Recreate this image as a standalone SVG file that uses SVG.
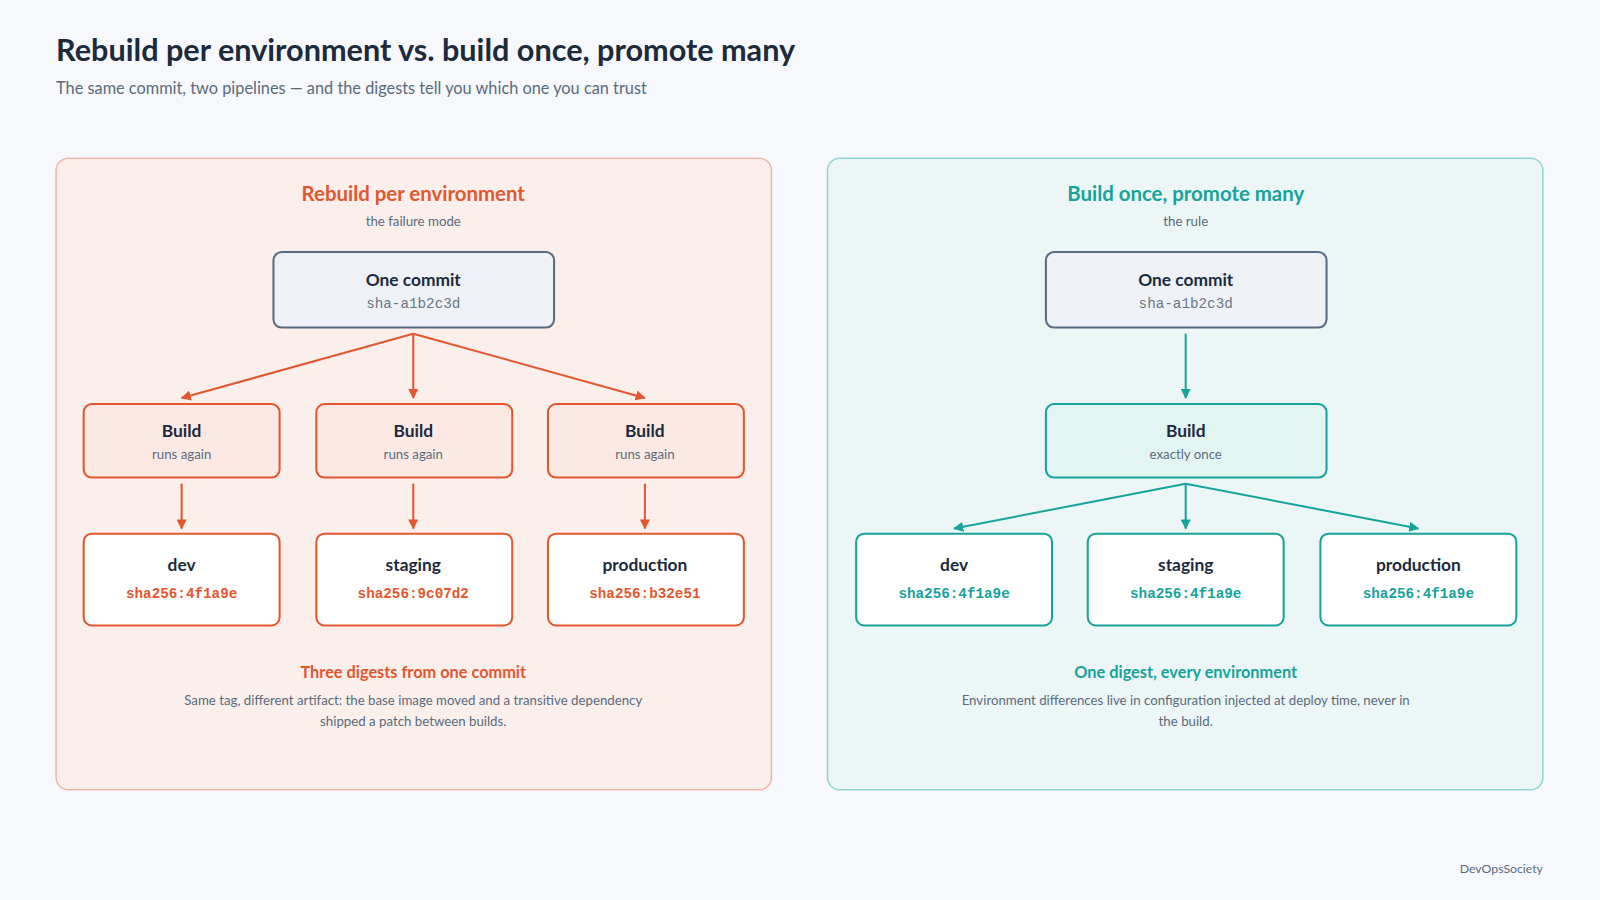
<svg xmlns="http://www.w3.org/2000/svg" width="1600" height="900" viewBox="0 0 1600 900">
<defs>
<style>
text{font-family:Lato,"Noto Sans","Liberation Sans",sans-serif}
.t{font-size:30px;font-weight:700;fill:#1b2a3d}
.st{font-size:16px;fill:#5a6b7d}
.pt{font-size:20px;font-weight:700;text-anchor:middle}
.ps{font-size:13px;fill:#5a6b7d;text-anchor:middle}
.nt{font-size:17px;font-weight:700;fill:#1b2a3d;text-anchor:middle}
.ns{font-size:13px;fill:#5a6b7d;text-anchor:middle}
.mono{font-family:"Liberation Mono","DejaVu Sans Mono",monospace;font-size:14px;text-anchor:middle}
.dg{font-weight:700}
.commit{fill:#eef2f6;stroke:#5b6b80;stroke-width:2}
.o{stroke:#e4572e}
.g{stroke:#16a39b}
.ft{font-size:16px;font-weight:700;text-anchor:middle}
</style>
<marker id="ao" viewBox="0 0 10 10" refX="9" refY="5" markerWidth="5" markerHeight="5" orient="auto"><path d="M0,0L10,5L0,10z" fill="#e4572e"/></marker>
<marker id="ag" viewBox="0 0 10 10" refX="9" refY="5" markerWidth="5" markerHeight="5" orient="auto"><path d="M0,0L10,5L0,10z" fill="#16a39b"/></marker>
</defs>
<rect width="1600" height="900" fill="#f6f8fb"/>
<g transform="scale(1.0204)">
<text class="t" x="55" y="60">Rebuild per environment vs. build once, promote many</text>
<text class="st" x="55" y="92">The same commit, two pipelines — and the digests tell you which one you can trust</text>

<g id="panel-left">
<rect x="55" y="155" width="701" height="619" rx="12" fill="#fbefec" stroke="#f2b5a6" stroke-width="1.5"/>
<text class="pt" x="405" y="197" fill="#e4572e">Rebuild per environment</text>
<text class="ps" x="405" y="221">the failure mode</text>
<text class="ft" x="405" y="664" fill="#e4572e">Three digests from one commit</text>
<text class="ps" x="405" y="691">Same tag, different artifact: the base image moved and a transitive dependency</text>
<text class="ps" x="405" y="711">shipped a patch between builds.</text>
</g>
<g id="panel-right">
<rect x="811" y="155" width="701" height="619" rx="12" fill="#ecf6f7" stroke="#8fd6d2" stroke-width="1.5"/>
<text class="pt" x="1162" y="197" fill="#16a39b">Build once, promote many</text>
<text class="ps" x="1162" y="221">the rule</text>
<text class="ft" x="1162" y="664" fill="#16a39b">One digest, every environment</text>
<text class="ps" x="1162" y="691">Environment differences live in configuration injected at deploy time, never in</text>
<text class="ps" x="1162" y="711">the build.</text>
</g>

<g id="connectors" fill="none" stroke-width="2">
<g class="o" marker-end="url(#ao)">
<path d="M405,327L178,390"/><path d="M405,327L405,390"/><path d="M405,327L632,390"/>
<path d="M178,474L178,518"/><path d="M405,474L405,518"/><path d="M632,474L632,518"/>
</g>
<g class="g" marker-end="url(#ag)">
<path d="M1162,327L1162,390"/>
<path d="M1162,474L935,518"/><path d="M1162,474L1162,518"/><path d="M1162,474L1390,518"/>
</g>
</g>

<g id="l-commit"><rect class="commit" x="268" y="247" width="275" height="74" rx="8"/><text class="nt" x="405" y="280">One commit</text><text class="mono" x="405" y="302" fill="#6b7785">sha-a1b2c3d</text></g>
<g id="l-build1"><rect x="82" y="396" width="192" height="72" rx="8" fill="#fde9e3" stroke="#e4572e" stroke-width="2"/><text class="nt" x="178" y="428">Build</text><text class="ns" x="178" y="450">runs again</text></g>
<g id="l-build2"><rect x="310" y="396" width="192" height="72" rx="8" fill="#fde9e3" stroke="#e4572e" stroke-width="2"/><text class="nt" x="405" y="428">Build</text><text class="ns" x="405" y="450">runs again</text></g>
<g id="l-build3"><rect x="537" y="396" width="192" height="72" rx="8" fill="#fde9e3" stroke="#e4572e" stroke-width="2"/><text class="nt" x="632" y="428">Build</text><text class="ns" x="632" y="450">runs again</text></g>
<g id="l-dev"><rect x="82" y="523" width="192" height="90" rx="8" fill="#fff" stroke="#e4572e" stroke-width="2"/><text class="nt" x="178" y="560">dev</text><text class="mono dg" x="178" y="586" fill="#e4572e">sha256:4f1a9e</text></g>
<g id="l-staging"><rect x="310" y="523" width="192" height="90" rx="8" fill="#fff" stroke="#e4572e" stroke-width="2"/><text class="nt" x="405" y="560">staging</text><text class="mono dg" x="405" y="586" fill="#e4572e">sha256:9c07d2</text></g>
<g id="l-prod"><rect x="537" y="523" width="192" height="90" rx="8" fill="#fff" stroke="#e4572e" stroke-width="2"/><text class="nt" x="632" y="560">production</text><text class="mono dg" x="632" y="586" fill="#e4572e">sha256:b32e51</text></g>

<g id="r-commit"><rect class="commit" x="1025" y="247" width="275" height="74" rx="8"/><text class="nt" x="1162" y="280">One commit</text><text class="mono" x="1162" y="302" fill="#6b7785">sha-a1b2c3d</text></g>
<g id="r-build"><rect x="1025" y="396" width="275" height="72" rx="8" fill="#e3f5f3" stroke="#16a39b" stroke-width="2"/><text class="nt" x="1162" y="428">Build</text><text class="ns" x="1162" y="450">exactly once</text></g>
<g id="r-dev"><rect x="839" y="523" width="192" height="90" rx="8" fill="#fff" stroke="#16a39b" stroke-width="2"/><text class="nt" x="935" y="560">dev</text><text class="mono dg" x="935" y="586" fill="#16a39b">sha256:4f1a9e</text></g>
<g id="r-staging"><rect x="1066" y="523" width="192" height="90" rx="8" fill="#fff" stroke="#16a39b" stroke-width="2"/><text class="nt" x="1162" y="560">staging</text><text class="mono dg" x="1162" y="586" fill="#16a39b">sha256:4f1a9e</text></g>
<g id="r-prod"><rect x="1294" y="523" width="192" height="90" rx="8" fill="#fff" stroke="#16a39b" stroke-width="2"/><text class="nt" x="1390" y="560">production</text><text class="mono dg" x="1390" y="586" fill="#16a39b">sha256:4f1a9e</text></g>

<text x="1512" y="856" font-size="12" fill="#5a6b7d" text-anchor="end">DevOpsSociety</text>
</g>
</svg>
